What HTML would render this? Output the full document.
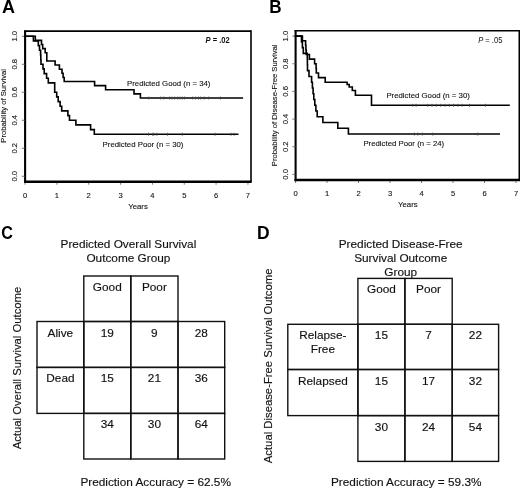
<!DOCTYPE html>
<html><head><meta charset="utf-8"><style>
html,body{margin:0;padding:0;background:#fff;}
svg{display:block;filter:blur(0.3px);}
text{font-family:"Liberation Sans",sans-serif;fill:#111;stroke:none;}
.s{font-size:7.8px;stroke:#222;stroke-width:0.12px;}
.t{font-size:7.6px;stroke:#222;stroke-width:0.12px;}
.b{font-size:11.8px;stroke:#111;stroke-width:0.15px;}
.r{font-size:11.3px;stroke:#111;stroke-width:0.15px;}
.p{font-size:8.4px;}
.yl{font-size:7.67px;stroke:#222;stroke-width:0.12px;}
.L{font-size:18px;font-weight:bold;fill:#000;}
</style></head><body>
<svg width="520" height="488" viewBox="0 0 520 488">
<rect width="520" height="488" fill="#fff"/>
<text class="L" transform="translate(2.1,12.7) scale(1,1)">A</text>
<text class="L" transform="translate(269.2,12.6) scale(0.95,1)">B</text>
<text class="L" transform="translate(1.3,239.2) scale(0.9,1)">C</text>
<text class="L" transform="translate(256.9,238.6) scale(0.97,1)">D</text>
<g stroke="#000" fill="none">
<line x1="24.1" y1="31.1" x2="251.0" y2="31.1" stroke-width="1.6"/>
<line x1="251.0" y1="30.3" x2="251.0" y2="181.7" stroke-width="1.6"/>
<line x1="25.1" y1="30.400000000000002" x2="25.1" y2="182.89999999999998" stroke-width="2.1"/>
<line x1="24.05" y1="181.7" x2="251.7" y2="181.7" stroke-width="2.4"/>
<line x1="21.8" y1="176.25" x2="25.1" y2="176.25" stroke-width="0.8" stroke="#555"/>
<text class="t" transform="translate(16.9,176.25) rotate(-90)" text-anchor="middle">0.0</text>
<line x1="21.8" y1="148.25" x2="25.1" y2="148.25" stroke-width="0.8" stroke="#555"/>
<text class="t" transform="translate(16.9,148.25) rotate(-90)" text-anchor="middle">0.2</text>
<line x1="21.8" y1="120.25" x2="25.1" y2="120.25" stroke-width="0.8" stroke="#555"/>
<text class="t" transform="translate(16.9,120.25) rotate(-90)" text-anchor="middle">0.4</text>
<line x1="21.8" y1="92.25" x2="25.1" y2="92.25" stroke-width="0.8" stroke="#555"/>
<text class="t" transform="translate(16.9,92.25) rotate(-90)" text-anchor="middle">0.6</text>
<line x1="21.8" y1="64.25" x2="25.1" y2="64.25" stroke-width="0.8" stroke="#555"/>
<text class="t" transform="translate(16.9,64.25) rotate(-90)" text-anchor="middle">0.8</text>
<line x1="21.8" y1="36.25" x2="25.1" y2="36.25" stroke-width="0.8" stroke="#555"/>
<text class="t" transform="translate(16.9,36.25) rotate(-90)" text-anchor="middle">1.0</text>
<line x1="25.05" y1="182.7" x2="25.05" y2="184.7" stroke-width="0.8" stroke="#555"/>
<text class="t" x="25.05" y="197.6" text-anchor="middle">0</text>
<line x1="56.89" y1="182.7" x2="56.89" y2="184.7" stroke-width="0.8" stroke="#555"/>
<text class="t" x="56.89" y="197.6" text-anchor="middle">1</text>
<line x1="88.73" y1="182.7" x2="88.73" y2="184.7" stroke-width="0.8" stroke="#555"/>
<text class="t" x="88.73" y="197.6" text-anchor="middle">2</text>
<line x1="120.57" y1="182.7" x2="120.57" y2="184.7" stroke-width="0.8" stroke="#555"/>
<text class="t" x="120.57" y="197.6" text-anchor="middle">3</text>
<line x1="152.41" y1="182.7" x2="152.41" y2="184.7" stroke-width="0.8" stroke="#555"/>
<text class="t" x="152.41" y="197.6" text-anchor="middle">4</text>
<line x1="184.25" y1="182.7" x2="184.25" y2="184.7" stroke-width="0.8" stroke="#555"/>
<text class="t" x="184.25" y="197.6" text-anchor="middle">5</text>
<line x1="216.09" y1="182.7" x2="216.09" y2="184.7" stroke-width="0.8" stroke="#555"/>
<text class="t" x="216.09" y="197.6" text-anchor="middle">6</text>
<line x1="247.93" y1="182.7" x2="247.93" y2="184.7" stroke-width="0.8" stroke="#555"/>
<text class="t" x="247.93" y="197.6" text-anchor="middle">7</text>
<text class="s" x="138.0" y="208.9" text-anchor="middle">Years</text>
<text class="yl" transform="translate(6.0,105.85) rotate(-90)" text-anchor="middle">Probability of Survival</text>
<line x1="294.6" y1="30.7" x2="519.3" y2="30.7" stroke-width="1.6"/>
<line x1="519.3" y1="29.9" x2="519.3" y2="180.0" stroke-width="1.6"/>
<line x1="295.6" y1="30.0" x2="295.6" y2="181.2" stroke-width="2.1"/>
<line x1="294.55" y1="180.0" x2="520.0" y2="180.0" stroke-width="2.4"/>
<line x1="292.3" y1="174.40" x2="295.6" y2="174.40" stroke-width="0.8" stroke="#555"/>
<text class="t" transform="translate(287.7,174.40) rotate(-90)" text-anchor="middle">0.0</text>
<line x1="292.3" y1="146.74" x2="295.6" y2="146.74" stroke-width="0.8" stroke="#555"/>
<text class="t" transform="translate(287.7,146.74) rotate(-90)" text-anchor="middle">0.2</text>
<line x1="292.3" y1="119.08" x2="295.6" y2="119.08" stroke-width="0.8" stroke="#555"/>
<text class="t" transform="translate(287.7,119.08) rotate(-90)" text-anchor="middle">0.4</text>
<line x1="292.3" y1="91.42" x2="295.6" y2="91.42" stroke-width="0.8" stroke="#555"/>
<text class="t" transform="translate(287.7,91.42) rotate(-90)" text-anchor="middle">0.6</text>
<line x1="292.3" y1="63.76" x2="295.6" y2="63.76" stroke-width="0.8" stroke="#555"/>
<text class="t" transform="translate(287.7,63.76) rotate(-90)" text-anchor="middle">0.8</text>
<line x1="292.3" y1="36.10" x2="295.6" y2="36.10" stroke-width="0.8" stroke="#555"/>
<text class="t" transform="translate(287.7,36.10) rotate(-90)" text-anchor="middle">1.0</text>
<line x1="295.50" y1="181.0" x2="295.50" y2="183.0" stroke-width="0.8" stroke="#555"/>
<text class="t" x="295.50" y="195.6" text-anchor="middle">0</text>
<line x1="327.00" y1="181.0" x2="327.00" y2="183.0" stroke-width="0.8" stroke="#555"/>
<text class="t" x="327.00" y="195.6" text-anchor="middle">1</text>
<line x1="358.50" y1="181.0" x2="358.50" y2="183.0" stroke-width="0.8" stroke="#555"/>
<text class="t" x="358.50" y="195.6" text-anchor="middle">2</text>
<line x1="390.00" y1="181.0" x2="390.00" y2="183.0" stroke-width="0.8" stroke="#555"/>
<text class="t" x="390.00" y="195.6" text-anchor="middle">3</text>
<line x1="421.50" y1="181.0" x2="421.50" y2="183.0" stroke-width="0.8" stroke="#555"/>
<text class="t" x="421.50" y="195.6" text-anchor="middle">4</text>
<line x1="453.00" y1="181.0" x2="453.00" y2="183.0" stroke-width="0.8" stroke="#555"/>
<text class="t" x="453.00" y="195.6" text-anchor="middle">5</text>
<line x1="484.50" y1="181.0" x2="484.50" y2="183.0" stroke-width="0.8" stroke="#555"/>
<text class="t" x="484.50" y="195.6" text-anchor="middle">6</text>
<line x1="516.00" y1="181.0" x2="516.00" y2="183.0" stroke-width="0.8" stroke="#555"/>
<text class="t" x="516.00" y="195.6" text-anchor="middle">7</text>
<text class="s" x="407.8" y="207.3" text-anchor="middle">Years</text>
<text class="yl" transform="translate(277.0,105.3) rotate(-90)" text-anchor="middle">Probability of Disease-Free Survival</text>
</g>

<g fill="none" stroke="#000" stroke-width="1.6" stroke-linejoin="miter" stroke-linecap="square">
<path d="M25.10,36.25 H35.30 V40.37 H41.50 V44.49 H42.70 V48.60 H45.20 V52.72 H46.80 V60.96 H55.10 V65.07 H59.40 V69.19 H62.00 V73.31 H63.10 V77.43 H64.20 V81.54 H94.60 V85.66 H105.60 V89.78 H134.00 V93.90 H140.40 V98.01 H242.30"/>
<path d="M25.10,36.25 H33.40 V40.92 H38.30 V45.58 H39.50 V50.25 H40.60 V54.92 H40.80 V59.58 H41.00 V64.25 H43.00 V68.92 H44.20 V73.58 H46.60 V78.25 H48.30 V82.92 H54.70 V92.25 H56.70 V96.92 H58.20 V101.58 H60.10 V106.25 H61.70 V110.92 H67.90 V115.58 H69.50 V120.25 H75.90 V124.92 H90.60 V129.58 H94.30 V134.25 H237.70"/>
<path d="M295.60,36.10 H302.40 V40.71 H305.60 V45.32 H305.90 V49.93 H306.20 V54.54 H309.40 V59.15 H314.60 V63.76 H316.10 V68.37 H316.30 V72.98 H318.50 V77.59 H325.20 V82.20 H347.10 V84.50 H349.20 V86.99 H352.30 V90.45 H355.40 V95.29 H371.50 V105.25 H509.00"/>
<path d="M295.60,36.10 H301.50 V41.86 H302.40 V47.62 H303.30 V53.39 H307.30 V59.15 H307.40 V64.91 H307.50 V70.67 H309.00 V76.44 H311.60 V82.20 H312.40 V87.96 H313.10 V93.72 H313.80 V99.49 H314.80 V105.25 H315.90 V111.01 H317.20 V116.78 H322.90 V122.54 H337.80 V128.30 H348.40 V134.06 H499.20"/>
</g>
<g stroke="#444" stroke-width="0.8">
<line x1="148.8" y1="96.5" x2="148.8" y2="99.5"/><line x1="160.8" y1="96.5" x2="160.8" y2="99.5"/><line x1="163.8" y1="96.5" x2="163.8" y2="99.5"/><line x1="169.6" y1="96.5" x2="169.6" y2="99.5"/><line x1="171.9" y1="96.5" x2="171.9" y2="99.5"/><line x1="174.7" y1="96.5" x2="174.7" y2="99.5"/><line x1="177.7" y1="96.5" x2="177.7" y2="99.5"/><line x1="180.0" y1="96.5" x2="180.0" y2="99.5"/><line x1="182.3" y1="96.5" x2="182.3" y2="99.5"/><line x1="184.6" y1="96.5" x2="184.6" y2="99.5"/><line x1="192.7" y1="96.5" x2="192.7" y2="99.5"/><line x1="195.5" y1="96.5" x2="195.5" y2="99.5"/><line x1="198.5" y1="96.5" x2="198.5" y2="99.5"/><line x1="200.8" y1="96.5" x2="200.8" y2="99.5"/><line x1="204.2" y1="96.5" x2="204.2" y2="99.5"/><line x1="208.8" y1="96.5" x2="208.8" y2="99.5"/><line x1="220.4" y1="96.5" x2="220.4" y2="99.5"/>
<line x1="148.5" y1="132.8" x2="148.5" y2="135.8"/><line x1="152.7" y1="132.8" x2="152.7" y2="135.8"/><line x1="153.8" y1="132.8" x2="153.8" y2="135.8"/><line x1="156.9" y1="132.8" x2="156.9" y2="135.8"/><line x1="167.5" y1="132.8" x2="167.5" y2="135.8"/><line x1="182.3" y1="132.8" x2="182.3" y2="135.8"/><line x1="215.1" y1="132.8" x2="215.1" y2="135.8"/><line x1="231.0" y1="132.8" x2="231.0" y2="135.8"/><line x1="234.1" y1="132.8" x2="234.1" y2="135.8"/>
<line x1="412.7" y1="103.8" x2="412.7" y2="106.8"/><line x1="416.1" y1="103.8" x2="416.1" y2="106.8"/><line x1="427.7" y1="103.8" x2="427.7" y2="106.8"/><line x1="432.0" y1="103.8" x2="432.0" y2="106.8"/><line x1="436.3" y1="103.8" x2="436.3" y2="106.8"/><line x1="440.7" y1="103.8" x2="440.7" y2="106.8"/><line x1="445.0" y1="103.8" x2="445.0" y2="106.8"/><line x1="449.3" y1="103.8" x2="449.3" y2="106.8"/><line x1="453.6" y1="103.8" x2="453.6" y2="106.8"/><line x1="458.0" y1="103.8" x2="458.0" y2="106.8"/><line x1="462.3" y1="103.8" x2="462.3" y2="106.8"/><line x1="469.5" y1="103.8" x2="469.5" y2="106.8"/><line x1="485.4" y1="103.8" x2="485.4" y2="106.8"/>
<line x1="414.4" y1="132.6" x2="414.4" y2="135.6"/><line x1="417.9" y1="132.6" x2="417.9" y2="135.6"/><line x1="422.4" y1="132.6" x2="422.4" y2="135.6"/><line x1="432.8" y1="132.6" x2="432.8" y2="135.6"/><line x1="477.8" y1="132.6" x2="477.8" y2="135.6"/>
</g>

<text class="p" transform="translate(205.6,42.6) scale(0.9,1)" font-weight="bold"><tspan font-style="italic">P</tspan> = .02</text>
<text class="p" transform="translate(478.2,42.6) scale(0.9,1)"><tspan font-style="italic">P</tspan> = .05</text>
<text class="s" x="127.0" y="86.2">Predicted Good (n = 34)</text>
<text class="s" x="102.6" y="147.3">Predicted Poor (n = 30)</text>
<text class="s" x="386.4" y="97.7">Predicted Good (n = 30)</text>
<text class="s" x="363.4" y="146.3">Predicted Poor (n = 24)</text>
<g fill="none" stroke="#111" stroke-width="1.4">
<rect x="83.80" y="276.00" width="47.00" height="45.50"/>
<rect x="130.80" y="276.00" width="47.20" height="45.50"/>
<rect x="37.00" y="321.50" width="46.80" height="45.90"/>
<rect x="83.80" y="321.50" width="47.00" height="45.90"/>
<rect x="130.80" y="321.50" width="47.20" height="45.90"/>
<rect x="178.00" y="321.50" width="46.70" height="45.90"/>
<rect x="37.00" y="367.40" width="46.80" height="46.00"/>
<rect x="83.80" y="367.40" width="47.00" height="46.00"/>
<rect x="130.80" y="367.40" width="47.20" height="46.00"/>
<rect x="178.00" y="367.40" width="46.70" height="46.00"/>
<rect x="83.80" y="413.40" width="47.00" height="45.60"/>
<rect x="130.80" y="413.40" width="47.20" height="45.60"/>
<rect x="178.00" y="413.40" width="46.70" height="45.60"/>
<rect x="357.90" y="278.40" width="47.00" height="45.90"/>
<rect x="404.90" y="278.40" width="47.30" height="45.90"/>
<rect x="287.80" y="324.30" width="70.10" height="45.20"/>
<rect x="357.90" y="324.30" width="47.00" height="45.20"/>
<rect x="404.90" y="324.30" width="47.30" height="45.20"/>
<rect x="452.20" y="324.30" width="46.40" height="45.20"/>
<rect x="287.80" y="369.50" width="70.10" height="46.10"/>
<rect x="357.90" y="369.50" width="47.00" height="46.10"/>
<rect x="404.90" y="369.50" width="47.30" height="46.10"/>
<rect x="452.20" y="369.50" width="46.40" height="46.10"/>
<rect x="357.90" y="415.60" width="47.00" height="45.80"/>
<rect x="404.90" y="415.60" width="47.30" height="45.80"/>
<rect x="452.20" y="415.60" width="46.40" height="45.80"/>
</g>
<g>
<text class="b" x="107.30" y="291.00" text-anchor="middle">Good</text>
<text class="b" x="154.40" y="291.00" text-anchor="middle">Poor</text>
<text class="b" x="60.40" y="336.50" text-anchor="middle">Alive</text>
<text class="b" x="107.30" y="336.50" text-anchor="middle">19</text>
<text class="b" x="154.40" y="336.50" text-anchor="middle">9</text>
<text class="b" x="201.35" y="336.50" text-anchor="middle">28</text>
<text class="b" x="60.40" y="382.40" text-anchor="middle">Dead</text>
<text class="b" x="107.30" y="382.40" text-anchor="middle">15</text>
<text class="b" x="154.40" y="382.40" text-anchor="middle">21</text>
<text class="b" x="201.35" y="382.40" text-anchor="middle">36</text>
<text class="b" x="107.30" y="428.40" text-anchor="middle">34</text>
<text class="b" x="154.40" y="428.40" text-anchor="middle">30</text>
<text class="b" x="201.35" y="428.40" text-anchor="middle">64</text>
<text class="b" x="381.40" y="293.40" text-anchor="middle">Good</text>
<text class="b" x="428.55" y="293.40" text-anchor="middle">Poor</text>
<text class="b" x="322.85" y="339.30" text-anchor="middle">Relapse-</text>
<text class="b" x="322.85" y="353.30" text-anchor="middle">Free</text>
<text class="b" x="381.40" y="339.30" text-anchor="middle">15</text>
<text class="b" x="428.55" y="339.30" text-anchor="middle">7</text>
<text class="b" x="475.40" y="339.30" text-anchor="middle">22</text>
<text class="b" x="322.85" y="384.50" text-anchor="middle">Relapsed</text>
<text class="b" x="381.40" y="384.50" text-anchor="middle">15</text>
<text class="b" x="428.55" y="384.50" text-anchor="middle">17</text>
<text class="b" x="475.40" y="384.50" text-anchor="middle">32</text>
<text class="b" x="381.40" y="430.60" text-anchor="middle">30</text>
<text class="b" x="428.55" y="430.60" text-anchor="middle">24</text>
<text class="b" x="475.40" y="430.60" text-anchor="middle">54</text>
<text class="b" x="128.4" y="247.7" text-anchor="middle">Predicted Overall Survival</text>
<text class="b" x="128.4" y="261.5" text-anchor="middle">Outcome Group</text>
<text class="b" x="400.7" y="247.9" text-anchor="middle">Predicted Disease-Free</text>
<text class="b" x="400.7" y="262.1" text-anchor="middle">Survival Outcome</text>
<text class="b" x="400.7" y="276.1" text-anchor="middle">Group</text>
<text class="b" x="80.4" y="485.8">Prediction Accuracy = 62.5%</text>
<text class="b" x="331.0" y="485.6">Prediction Accuracy = 59.3%</text>
<text class="r" transform="translate(21,368) rotate(-90)" text-anchor="middle">Actual Overall Survival Outcome</text>
<text class="r" transform="translate(272.2,365.9) rotate(-90)" text-anchor="middle">Actual Disease-Free Survival Outcome</text>
</g>
</svg>
</body></html>
